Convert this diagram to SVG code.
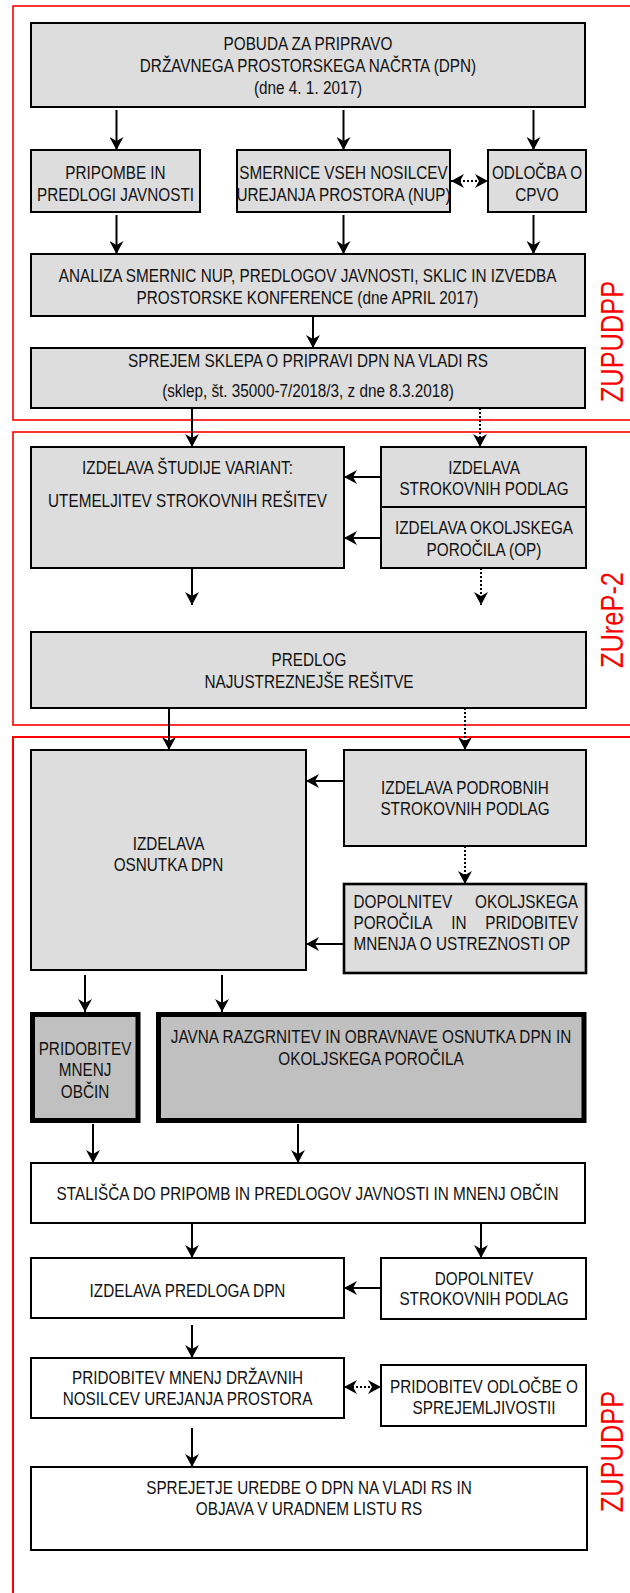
<svg xmlns="http://www.w3.org/2000/svg" width="630" height="1593" viewBox="0 0 630 1593">
<style>
.box{fill:#dddddd;stroke:#000;stroke-width:2}
.wbox{fill:#fff;stroke:#000;stroke-width:2}
.tbox{fill:#c0c0c0;stroke:#000;stroke-width:5}
.frame{fill:none;stroke:#ff0000;stroke-width:1.6}
.t{font-family:"Liberation Sans",Arial,sans-serif;font-size:18.67px;fill:#111}
.c{text-anchor:middle}
.e{text-anchor:end}
.lbl{font-family:"Liberation Sans",Arial,sans-serif;font-size:31px;fill:#ff0000;text-anchor:middle}
.ln{stroke:#000;stroke-width:2;fill:none;marker-end:url(#ah)}
.dl{stroke-dasharray:2 2}
.bi{marker-start:url(#ah)}
</style>
<defs>
<marker id="ah" viewBox="0 0 13 14" refX="13" refY="7" markerWidth="13" markerHeight="14" markerUnits="userSpaceOnUse" orient="auto-start-reverse">
<path d="M0,0 L13,7 L0,14 L4,7 Z" fill="#000"/>
</marker>
</defs>

<g id="frames">
<rect class="frame" x="13" y="6" width="640" height="414"/>
<rect class="frame" x="13" y="432" width="640" height="293"/>
<rect class="frame" x="13" y="737" width="640" height="900" style="stroke-width:2"/>
<text class="lbl" transform="translate(623,341.5) rotate(-90) scale(0.82,1)">ZUPUDPP</text>
<text class="lbl" transform="translate(623,620) rotate(-90) scale(0.82,1)">ZUreP-2</text>
<text class="lbl" transform="translate(623,1451.5) rotate(-90) scale(0.82,1)">ZUPUDPP</text>
</g>

<g id="connectors">
<path class="ln" d="M116.5,110 V150"/>
<path class="ln" d="M343.5,110 V150"/>
<path class="ln" d="M533.5,110 V150"/>
<path class="ln" d="M116.5,215 V254"/>
<path class="ln" d="M343.5,215 V254"/>
<path class="ln" d="M533.5,215 V254"/>
<path class="ln dl bi" d="M451,181 H488"/>
<path class="ln" d="M313,316 V348"/>
<path class="ln" d="M192,408 V447"/>
<path class="ln dl" d="M480,408 V447"/>
<path class="ln" d="M381,477 H344"/>
<path class="ln" d="M381,538 H344"/>
<path class="ln" d="M192,568 V605"/>
<path class="ln dl" d="M481,568 V605"/>
<path class="ln" d="M169,708 V750"/>
<path class="ln dl" d="M465,708 V750"/>
<path class="ln" d="M344,781 H306"/>
<path class="ln dl" d="M465,846 V884"/>
<path class="ln" d="M344,944 H306"/>
<path class="ln" d="M85,975 V1012"/>
<path class="ln" d="M222,975 V1012"/>
<path class="ln" d="M93,1124 V1163"/>
<path class="ln" d="M298,1124 V1163"/>
<path class="ln" d="M192,1223 V1258"/>
<path class="ln" d="M481,1223 V1258"/>
<path class="ln" d="M381,1288 H344"/>
<path class="ln" d="M192,1325 V1358"/>
<path class="ln dl bi" d="M344,1387 H381"/>
<path class="ln" d="M192,1428 V1467"/>
</g>

<g id="n-pobuda">
<rect class="box" x="31" y="23" width="554" height="84"/>
<text class="t c" transform="translate(308,49.7) scale(0.82,1)">POBUDA ZA PRIPRAVO</text>
<text class="t c" transform="translate(308,71.7) scale(0.82,1)">DRŽAVNEGA PROSTORSKEGA NAČRTA (DPN)</text>
<text class="t c" transform="translate(308,93.7) scale(0.82,1)">(dne 4. 1. 2017)</text>
</g>

<g id="n-pripombe">
<rect class="box" x="31" y="150" width="169" height="62"/>
<text class="t c" transform="translate(115.5,179.2) scale(0.82,1)">PRIPOMBE IN</text>
<text class="t c" transform="translate(115.5,200.7) scale(0.82,1)">PREDLOGI JAVNOSTI</text>
</g>

<g id="n-smernice">
<rect class="box" x="237" y="150" width="213" height="62"/>
<text class="t c" transform="translate(343.5,179.2) scale(0.82,1)">SMERNICE VSEH NOSILCEV</text>
<text class="t c" transform="translate(343.5,200.7) scale(0.82,1)">UREJANJA PROSTORA (NUP)</text>
</g>

<g id="n-odlocba">
<rect class="box" x="488" y="150" width="98" height="62"/>
<text class="t c" transform="translate(537,179.2) scale(0.82,1)">ODLOČBA O</text>
<text class="t c" transform="translate(537,200.7) scale(0.82,1)">CPVO</text>
</g>

<g id="n-analiza">
<rect class="box" x="31" y="254" width="554" height="62"/>
<text class="t c" transform="translate(307.5,281.7) scale(0.82,1)">ANALIZA SMERNIC NUP, PREDLOGOV JAVNOSTI, SKLIC IN IZVEDBA</text>
<text class="t c" transform="translate(307.5,303.7) scale(0.82,1)">PROSTORSKE KONFERENCE (dne APRIL 2017)</text>
</g>

<g id="n-sprejem">
<rect class="box" x="31" y="348" width="554" height="60"/>
<text class="t c" transform="translate(308,366.7) scale(0.82,1)">SPREJEM SKLEPA O PRIPRAVI DPN NA VLADI RS</text>
<text class="t c" transform="translate(308,396.7) scale(0.82,1)">(sklep, št. 35000-7/2018/3, z dne 8.3.2018)</text>
</g>

<g id="n-studija">
<rect class="box" x="31" y="447" width="313" height="121"/>
<text class="t c" transform="translate(187.5,473.7) scale(0.82,1)">IZDELAVA ŠTUDIJE VARIANT:</text>
<text class="t c" transform="translate(187.5,506.7) scale(0.82,1)">UTEMELJITEV STROKOVNIH REŠITEV</text>
</g>

<g id="n-strokovne">
<rect class="box" x="381" y="447" width="205" height="60"/>
<text class="t c" transform="translate(484,473.7) scale(0.82,1)">IZDELAVA</text>
<text class="t c" transform="translate(484,494.7) scale(0.82,1)">STROKOVNIH PODLAG</text>
</g>

<g id="n-okoljsko">
<rect class="box" x="381" y="507" width="205" height="61"/>
<text class="t c" transform="translate(484,533.7) scale(0.82,1)">IZDELAVA OKOLJSKEGA</text>
<text class="t c" transform="translate(484,555.7) scale(0.82,1)">POROČILA (OP)</text>
</g>

<g id="n-predlog-resitve">
<rect class="box" x="31" y="632" width="555" height="76"/>
<text class="t c" transform="translate(309,665.7) scale(0.82,1)">PREDLOG</text>
<text class="t c" transform="translate(309,687.7) scale(0.82,1)">NAJUSTREZNEJŠE REŠITVE</text>
</g>

<g id="n-osnutek">
<rect class="box" x="31" y="750" width="275" height="220"/>
<text class="t c" transform="translate(168.5,849.7) scale(0.82,1)">IZDELAVA</text>
<text class="t c" transform="translate(168.5,870.7) scale(0.82,1)">OSNUTKA DPN</text>
</g>

<g id="n-podrobne">
<rect class="box" x="344" y="750" width="242" height="96"/>
<text class="t c" transform="translate(465,793.7) scale(0.82,1)">IZDELAVA PODROBNIH</text>
<text class="t c" transform="translate(465,814.7) scale(0.82,1)">STROKOVNIH PODLAG</text>
</g>

<g id="n-dopolnitev-op">
<rect class="box" x="344" y="884" width="242" height="89" style="stroke-width:2.6"/>
<text class="t" transform="translate(353.5,907.7) scale(0.82,1)">DOPOLNITEV</text>
<text class="t e" transform="translate(578,907.7) scale(0.82,1)">OKOLJSKEGA</text>
<text class="t" transform="translate(353.5,928.7) scale(0.82,1)">POROČILA</text>
<text class="t c" transform="translate(459,928.7) scale(0.82,1)">IN</text>
<text class="t e" transform="translate(578,928.7) scale(0.82,1)">PRIDOBITEV</text>
<text class="t" transform="translate(353.5,949.7) scale(0.82,1)">MNENJA O USTREZNOSTI OP</text>
</g>

<g id="n-mnenja-obcin">
<rect class="tbox" x="32.5" y="1014.5" width="105.5" height="106"/>
<text class="t c" transform="translate(85,1054.7) scale(0.82,1)">PRIDOBITEV</text>
<text class="t c" transform="translate(85,1075.7) scale(0.82,1)">MNENJ</text>
<text class="t c" transform="translate(85,1097.7) scale(0.82,1)">OBČIN</text>
</g>

<g id="n-javna">
<rect class="tbox" x="158.5" y="1014.5" width="425.5" height="106"/>
<text class="t c" transform="translate(371,1042.7) scale(0.82,1)">JAVNA RAZGRNITEV IN OBRAVNAVE OSNUTKA DPN IN</text>
<text class="t c" transform="translate(371,1064.7) scale(0.82,1)">OKOLJSKEGA POROČILA</text>
</g>

<g id="n-stalisca">
<rect class="wbox" x="31" y="1163" width="554" height="60"/>
<text class="t c" transform="translate(307.5,1199.7) scale(0.82,1)">STALIŠČA DO PRIPOMB IN PREDLOGOV JAVNOSTI IN MNENJ OBČIN</text>
</g>

<g id="n-predlog-dpn">
<rect class="wbox" x="31" y="1258" width="313" height="60"/>
<text class="t c" transform="translate(187.5,1296.7) scale(0.82,1)">IZDELAVA PREDLOGA DPN</text>
</g>

<g id="n-dopolnitev-sp">
<rect class="wbox" x="381" y="1258" width="205" height="61"/>
<text class="t c" transform="translate(484,1284.7) scale(0.82,1)">DOPOLNITEV</text>
<text class="t c" transform="translate(484,1304.7) scale(0.82,1)">STROKOVNIH PODLAG</text>
</g>

<g id="n-mnenja-nup">
<rect class="wbox" x="31" y="1358" width="313" height="60"/>
<text class="t c" transform="translate(187.5,1383.7) scale(0.82,1)">PRIDOBITEV MNENJ DRŽAVNIH</text>
<text class="t c" transform="translate(187.5,1404.7) scale(0.82,1)">NOSILCEV UREJANJA PROSTORA</text>
</g>

<g id="n-sprejemljivost">
<rect class="wbox" x="381" y="1365" width="205" height="61"/>
<text class="t c" transform="translate(484,1392.7) scale(0.82,1)">PRIDOBITEV ODLOČBE O</text>
<text class="t c" transform="translate(484,1413.7) scale(0.82,1)">SPREJEMLJIVOSTII</text>
</g>

<g id="n-uredba">
<rect class="wbox" x="31" y="1467" width="556" height="83"/>
<text class="t c" transform="translate(309,1493.7) scale(0.82,1)">SPREJETJE UREDBE O DPN NA VLADI RS IN</text>
<text class="t c" transform="translate(309,1514.7) scale(0.82,1)">OBJAVA V URADNEM LISTU RS</text>
</g>
</svg>
